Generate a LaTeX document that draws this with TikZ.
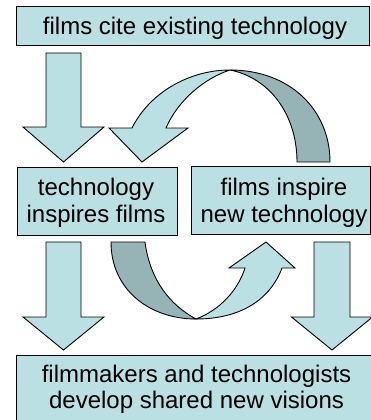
\documentclass[tikz,border=0pt]{standalone}
\usepackage{fontspec}
\setmainfont{Liberation Sans}
\definecolor{lightc}{RGB}{187,224,227}
\definecolor{darkc}{RGB}{150,179,181}
\begin{document}
\begin{tikzpicture}[x=1pt,y=-1pt,
 box/.style={draw=black,fill=lightc,line width=1pt,inner sep=0pt,outer sep=0pt,anchor=north west},
 txt/.style={font=\fontsize{24}{27}\selectfont,anchor=base,inner sep=0pt},
 face/.style={draw=black,fill=lightc,line width=0.9pt,line join=miter},
 back/.style={draw=black,fill=darkc,line width=0.9pt}]
\useasboundingbox (0,0) rectangle (371,420);
\clip (0,0) rectangle (371,420);
\node[box,minimum width=353pt,minimum height=39pt] (top) at (16,7) {};
\node[txt] (t1) at (195,35) {films cite existing technology};
\node[box,minimum width=160pt,minimum height=68pt] (ml) at (17,167) {};
\node[txt] (ml1) at (96,195) {technology};
\node[txt] (ml2) at (96,222) {inspires films};
\node[box,minimum width=179pt,minimum height=68pt] (mr) at (191,166) {};
\node[txt] (mr1) at (284,195) {films inspire};
\node[txt] (mr2) at (284,222) {new technology};
\node[box,minimum width=380pt,minimum height=90pt] (bot) at (16,355) {};
\node[txt] (b1) at (196.5,382) {filmmakers and technologists};
\node[txt] (b2) at (196.5,408) {develop shared new visions};
% straight arrows
\draw[face] (46,53) -- (81,53) -- (81,127) -- (104,127) -- (63.5,162) -- (23,127) -- (46,127) -- cycle;
\draw[face] (46,242) -- (81,242) -- (81,317) -- (104,317) -- (63.5,350) -- (23,317) -- (46,317) -- cycle;
\draw[face] (314,242) -- (350,242) -- (350,317) -- (372.5,317) -- (332,350) -- (291.5,317) -- (314,317) -- cycle;
% upper curved arrow
\draw[back] (230,70) .. controls (290,70) and (330,110) .. (330,162) -- (297,162) .. controls (297,115) and (270,78) .. (230,70) -- cycle;
\draw[face] (132,128) -- (109,128) -- (142,162) -- (188,128) -- (166,128) .. controls (178,100) and (205,78) .. (230,70) .. controls (190,70) and (150,92) .. (132,128) -- cycle;
% lower curved arrow
\draw[back] (111,242) -- (145,242) .. controls (150,280) and (170,305) .. (196,319) .. controls (150,319) and (111,290) .. (111,242) -- cycle;
\draw[face] (196,319) .. controls (220,310) and (238,290) .. (245,268) -- (229,268) -- (266,242) -- (295,268) -- (282,268) .. controls (270,300) and (240,319) .. (196,319) -- cycle;
\end{tikzpicture}
\end{document}
